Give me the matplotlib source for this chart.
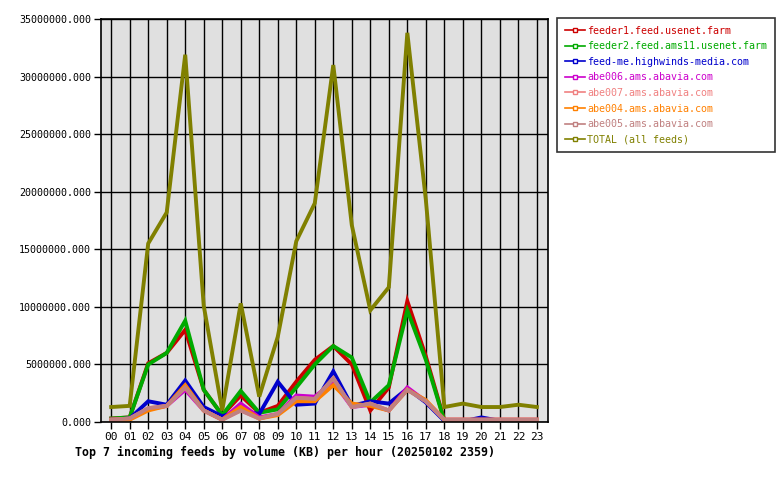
import matplotlib
matplotlib.use("Agg")
import matplotlib.pyplot as plt

hours = ["%02d" % h for h in range(24)]

feeder1 = [0.3, 0.4, 5.1, 6.0, 8.0, 2.8, 0.6, 2.3, 0.8, 1.4, 3.5, 5.4,
           6.6, 5.0, 1.0, 3.0, 10.5, 5.7, 0.15, 0.1, 0.1, 0.1, 0.1, 0.1]
feeder2 = [0.3, 0.4, 5.0, 6.0, 8.8, 2.8, 0.6, 2.7, 0.8, 1.1, 3.0, 5.0,
           6.6, 5.6, 1.7, 3.2, 9.7, 5.4, 0.1, 0.05, 0.05, 0.05, 0.05, 0.05]
feedme = [0.2, 0.3, 1.8, 1.5, 3.6, 1.3, 0.5, 1.0, 0.7, 3.5, 1.5, 1.6,
          4.4, 1.4, 1.8, 1.6, 2.9, 1.7, 0.1, 0.05, 0.4, 0.1, 0.0, 0.1]
abe006 = [0.2, 0.3, 1.1, 1.4, 2.8, 1.0, 0.2, 1.6, 0.4, 0.7, 2.3, 2.2,
          3.5, 1.3, 1.5, 1.0, 3.0, 1.8, 0.2, 0.2, 0.2, 0.2, 0.2, 0.2]
abe007 = [0.2, 0.3, 1.2, 1.4, 3.0, 1.0, 0.2, 1.0, 0.3, 0.7, 2.1, 2.0,
          3.8, 1.3, 1.6, 1.0, 2.8, 1.8, 0.2, 0.2, 0.2, 0.2, 0.2, 0.2]
abe004 = [0.2, 0.2, 1.0, 1.4, 3.2, 1.0, 0.2, 1.3, 0.3, 0.6, 1.8, 1.8,
          3.2, 1.6, 1.4, 1.0, 2.8, 1.9, 0.2, 0.2, 0.2, 0.2, 0.2, 0.2]
abe005 = [0.2, 0.3, 1.2, 1.4, 3.0, 1.0, 0.2, 1.0, 0.3, 0.7, 2.1, 2.0,
          3.8, 1.3, 1.6, 1.0, 2.8, 1.8, 0.2, 0.2, 0.2, 0.2, 0.2, 0.2]
total = [1.3, 1.4, 15.5, 18.2, 31.9, 10.1, 1.0, 10.3, 2.2, 7.4, 15.7, 19.0,
         31.0, 17.1, 9.7, 11.7, 33.8, 19.3, 1.3, 1.6, 1.3, 1.3, 1.5, 1.3]

names = ["feeder1.feed.usenet.farm", "feeder2.feed.ams11.usenet.farm",
         "feed-me.highwinds-media.com", "abe006.ams.abavia.com",
         "abe007.ams.abavia.com", "abe004.ams.abavia.com",
         "abe005.ams.abavia.com", "TOTAL (all feeds)"]
series = [feeder1, feeder2, feedme, abe006, abe007, abe004, abe005, total]
colors = ["#cc0000", "#00aa00", "#0000cc", "#cc00cc",
          "#f08080", "#ff8000", "#c08080", "#808000"]

mono = "DejaVu Sans Mono"

fig = plt.figure(figsize=(7.8, 4.8), dpi=100)
ax = fig.add_axes([101 / 780, 58 / 480, 447 / 780, 403 / 480])
ax.set_facecolor("#e0e0e0")

x = list(range(24))
for name, vals, c in zip(names, series, colors):
    ax.plot(x, [v * 1e6 for v in vals], color=c, lw=2.8, label=name,
            solid_joinstyle="miter")

ax.set_xlim(-0.55, 23.6)
ax.set_ylim(0, 35e6)
ax.set_xticks(x)
ax.set_xticklabels(hours, family=mono, fontsize=8)
yt = [i * 5e6 for i in range(8)]
ax.set_yticks(yt)
ax.set_yticklabels(["%.3f" % v for v in yt], family=mono, fontsize=7.2)
ax.grid(True, color="black", lw=1)
ax.set_axisbelow(True)
ax.tick_params(length=5, width=1, color="black", pad=2)
for s in ax.spines.values():
    s.set_linewidth(1.2)
    s.set_color("black")

leg = ax.legend(loc="upper left", bbox_to_anchor=(557 / 780, 462 / 480),
                bbox_transform=fig.transFigure, prop={"family": mono, "size": 7.2},
                frameon=True, fancybox=False, edgecolor="black",
                handlelength=2.0, handletextpad=0.25, labelspacing=0.56,
                borderpad=0.75, borderaxespad=0)
leg.get_frame().set_linewidth(1.2)
for h in leg.get_lines():
    h.set_linewidth(1.2)
    h.set_marker("s")
    h.set_markersize(3)
    h.set_markerfacecolor("white")
for t, c in zip(leg.get_texts(), colors):
    t.set_color(c)

fig.text(75 / 780, 1 - 452 / 480, "Top 7 incoming feeds by volume (KB) per hour (20250102 2359)",
         family=mono, fontsize=8.4, fontweight="bold", va="center", ha="left")

fig.savefig("out.png", dpi=100)
